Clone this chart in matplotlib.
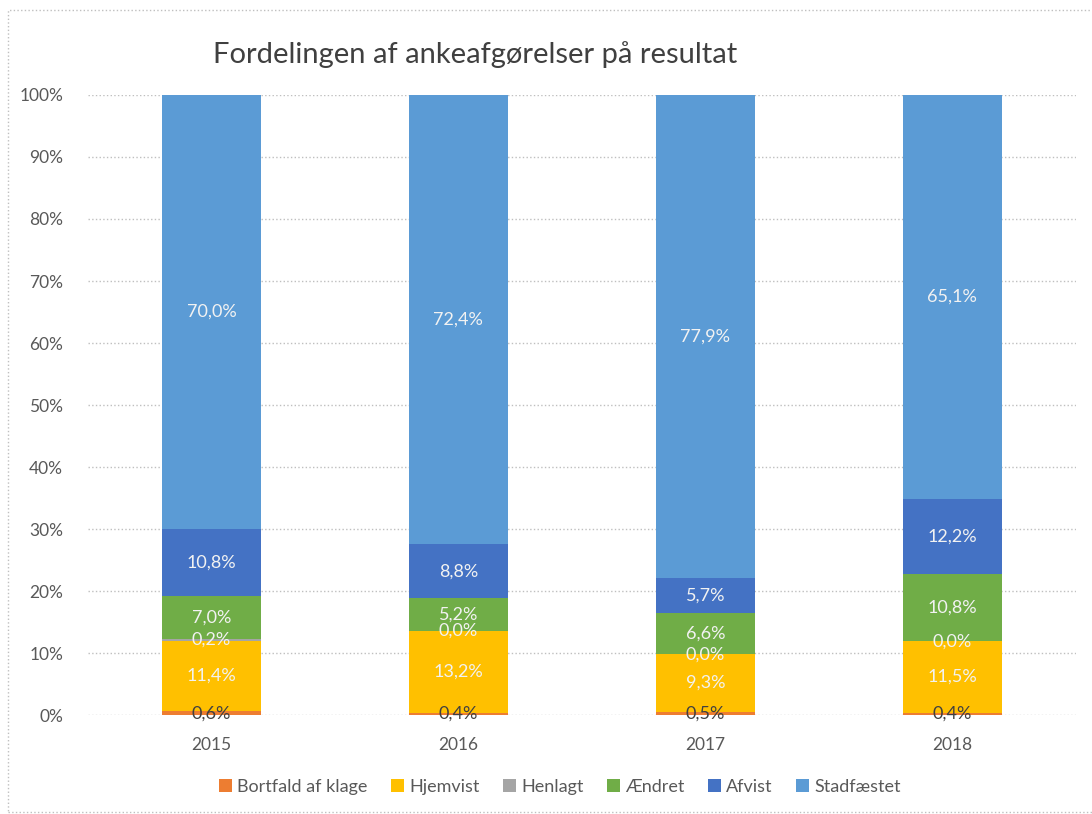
import matplotlib.pyplot as plt
import numpy as np
from matplotlib.patches import Rectangle

years = ["2015", "2016", "2017", "2018"]
series = ["Bortfald af klage", "Hjemvist", "Henlagt", "Ændret", "Afvist", "Stadfæstet"]
bortfald = [0.6, 0.4, 0.5, 0.4]
hjemvist = [11.4, 13.2, 9.3, 11.5]
henlagt = [0.2, 0.0, 0.0, 0.0]
aendret = [7.0, 5.2, 6.6, 10.8]
afvist = [10.8, 8.8, 5.7, 12.2]
stadfaestet = [70.0, 72.4, 77.9, 65.1]

values = [bortfald, hjemvist, henlagt, aendret, afvist, stadfaestet]
colors = ["#ED7D31", "#FFC000", "#A5A5A5", "#70AD47", "#4472C4", "#5B9BD5"]
label_colors = ["#404040", "#F2F2F2", "#F2F2F2", "#F2F2F2", "#F2F2F2", "#F2F2F2"]

plt.rcParams["font.family"] = ["Lato", "DejaVu Sans"]

fig = plt.figure(figsize=(10.92, 8.14), dpi=100)
ax = fig.add_axes([0.0806, 0.1216, 0.9044, 0.7617])

x = np.arange(len(years))
bottom = np.zeros(len(years))
for name, vals, col, lcol in zip(series, values, colors, label_colors):
    vals = np.array(vals)
    ax.bar(x, vals, 0.4, bottom=bottom, color=col, label=name, zorder=2)
    for xi, b, v in zip(x, bottom, vals):
        ax.text(xi, b + v / 2, f"{v:.1f}%".replace(".", ","), ha="center", va="center",
                color=lcol, fontsize=13, zorder=3)
    bottom += vals

ax.set_xlim(-0.5, 3.5)
ax.set_ylim(0, 100)
ax.set_yticks(range(0, 101, 10))
ax.set_yticklabels([f"{v}%" for v in range(0, 101, 10)])
ax.set_xticks(x)
ax.set_xticklabels(years)
ax.tick_params(length=0, colors="#595959", labelsize=12.5)
ax.tick_params(axis="y", pad=18)
ax.tick_params(axis="x", pad=16)
ax.grid(axis="y", color="#BFBFBF", linestyle=":", linewidth=1, zorder=0)
for s in ax.spines.values():
    s.set_visible(False)

fig.text(213 / 1092, 1 - 55 / 814, "Fordelingen af ankeafgørelser på resultat",
         fontsize=21, color="#404040", ha="left", va="center")

handles, labels = ax.get_legend_handles_labels()
fig.legend(handles, labels, loc="center", bbox_to_anchor=(560 / 1092, 1 - 787 / 814),
           ncol=6, frameon=False, fontsize=13, handlelength=0.7, handleheight=0.7,
           handletextpad=0.3, columnspacing=1.3, labelcolor="#595959")

fig.patches.append(Rectangle((8 / 1092, 0.002), 1.0, 1 - 10 / 814 - 0.002,
                             transform=fig.transFigure, fill=False,
                             edgecolor="#BFBFBF", linestyle=":", linewidth=1))

fig.savefig("out.png")
